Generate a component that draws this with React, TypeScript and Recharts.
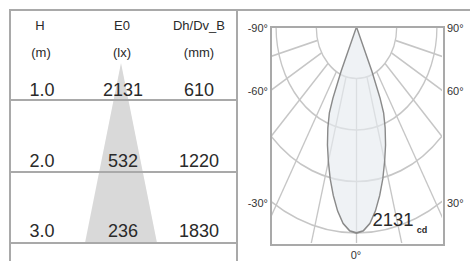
// Beam data sheet: mounting-height table with a light cone, plus the polar candela diagram.
import type { CSSProperties, ReactNode } from "react";
import { Area, AreaChart, PolarAngleAxis, PolarGrid, PolarRadiusAxis, Radar, RadarChart, XAxis, YAxis } from "recharts";

const HEADERS = ["H", "E0", "Dh/Dv_B"];
const UNITS = ["(m)", "(lx)", "(mm)"];
const HEIGHT_M = ["1.0", "2.0", "3.0"];
const E0_LX = [2131, 532, 236];
const SPOT_MM = [610, 1220, 1830];

// polar curve, gamma in degrees (0 = straight down), intensity in cd
const GAMMA_DEG = [-25, -24, -23, -22, -20, -17.5, -15, -12.5, -10, -7.5, -5, -2.5, 0, 2.5, 5, 7.5, 10, 12.5, 15, 17.5, 20, 22, 23, 24, 25];
const INTENSITY_CD = [0, 500, 800, 960, 1110, 1280, 1440, 1610, 1770, 1920, 2040, 2110, 2131, 2110, 2040, 1920, 1770, 1610, 1440, 1280, 1110, 960, 800, 500, 0];
const PEAK_CD = 2131;
const GRID_GAMMA = [-75, -60, -45, -30, -15, 0, 15, 30, 45, 60, 75];
const LEFT_LABELS = ["-90°", "-60°", "-30°"];
const RIGHT_LABELS = ["90°", "60°", "30°"];
const BOTTOM_LABEL = "0°";

const FONT = '"Liberation Sans", Arial, Helvetica, sans-serif';
const LINE = "#a9a9a9";
const GRID = "#c6c6c6";
const INK = "#2a2a2a";

const RING_PX = 51.5;
const POLAR_W = 219; // drawn width before the horizontal squeeze
const SQUEEZE = 171 / POLAR_W;

const coneData = [
  { x: -SPOT_MM[2] / 2, h: Number(HEIGHT_M[2]) },
  { x: 0, h: 0 },
  { x: SPOT_MM[2] / 2, h: Number(HEIGHT_M[2]) },
];
const curveData = GAMMA_DEG.map((g, i) => ({ angle: g, cd: INTENSITY_CD[i] }));

const abs = (s: CSSProperties): CSSProperties => ({ position: "absolute", ...s });

function Txt({ x, y, w = 60, size, children, align = "center", bold, color = INK }: { x: number; y: number; w?: number; size: number; children: ReactNode; align?: "center" | "left" | "right"; bold?: boolean; color?: string }) {
  const left = align === "center" ? x - w / 2 : align === "right" ? x - w : x;
  return (
    <div style={abs({ left, top: y - size / 2, width: w, height: size, lineHeight: `${size}px`, fontSize: size, textAlign: align, color, fontWeight: bold ? 700 : 400, whiteSpace: "nowrap" })}>
      {children}
    </div>
  );
}

function PolarCharts() {
  const angleAxis = <PolarAngleAxis dataKey="angle" type="number" domain={[-180, 180]} tick={false} tickLine={false} axisLine={false} />;
  const radiusAxis = <PolarRadiusAxis type="number" domain={[0, (PEAK_CD * 5) / 4]} allowDataOverflow tick={false} axisLine={false} />;
  return (
    <div style={abs({ left: 0, top: 0, width: POLAR_W, height: 216, transform: `scaleX(${SQUEEZE})`, transformOrigin: "0 0" })}>
      <div style={abs({ left: 0, top: 0 })}>
        <RadarChart width={POLAR_W} height={216} data={curveData} cx={POLAR_W / 2} cy={0} innerRadius={RING_PX} outerRadius={340} startAngle={-270} endAngle={90} margin={{ top: 0, right: 0, bottom: 0, left: 0 }}>
          <PolarGrid gridType="circle" polarAngles={GRID_GAMMA.map((g) => g - 90)} polarRadius={[1, 2, 3, 4].map((k) => k * RING_PX)} stroke={GRID} strokeWidth={1.7} />
          {angleAxis}
          {radiusAxis}
        </RadarChart>
      </div>
      <div style={abs({ left: 0, top: 0 })}>
        <RadarChart width={POLAR_W} height={216} data={curveData} cx={POLAR_W / 2} cy={0} innerRadius={0} outerRadius={RING_PX * 5} startAngle={-270} endAngle={90} margin={{ top: 0, right: 0, bottom: 0, left: 0 }}>
          {angleAxis}
          {radiusAxis}
          <Radar dataKey="cd" stroke="#8a8a8a" strokeWidth={1.8} fill="#e6ebf0" fillOpacity={0.65} dot={false} isAnimationActive={false} />
        </RadarChart>
      </div>
    </div>
  );
}

export default function App() {
  const colX = [42, 122, 199];
  const rowY = [90, 161, 231];
  const rowLines = [100, 172, 243];
  const sideY = [28, 91, 203];
  return (
    <div style={abs({ left: 0, top: 0, width: 470, height: 261, background: "#fff", overflow: "hidden", fontFamily: FONT })}>
      {/* light cone behind the table */}
      <div style={abs({ left: 10, top: 63 })}>
        <AreaChart width={222} height={180} data={coneData} margin={{ top: 0, right: 0, bottom: 0, left: 0 }}>
          <XAxis dataKey="x" type="number" domain={[-2820, 2820]} hide />
          <YAxis type="number" domain={[0, 3]} reversed hide />
          <Area type="linear" dataKey="h" baseValue={3} stroke="none" fill="#d9d9d9" fillOpacity={1} isAnimationActive={false} />
        </AreaChart>
      </div>

      {/* frame */}
      <div style={abs({ left: 9, top: 9, width: 461, height: 2, background: LINE })} />
      <div style={abs({ left: 9, top: 9, width: 2, height: 252, background: LINE })} />
      <div style={abs({ left: 236, top: 9, width: 2, height: 252, background: LINE })} />
      {rowLines.map((y) => (
        <div key={y} style={abs({ left: 10, top: y - 1, width: 227, height: 2, background: LINE })} />
      ))}

      {HEADERS.map((h, i) => (
        <Txt key={h} x={colX[i] - (i === 0 ? 2 : 0)} y={25} size={13} w={80}>{h}</Txt>
      ))}
      {UNITS.map((u, i) => (
        <Txt key={u} x={colX[i] - (i === 0 ? 1 : 0)} y={52} size={13} w={80}>{u}</Txt>
      ))}
      {HEIGHT_M.map((h, r) => (
        <div key={h}>
          <Txt x={colX[0]} y={rowY[r]} size={18}>{h}</Txt>
          <Txt x={colX[1] + 1} y={rowY[r]} size={18}>{E0_LX[r]}</Txt>
          <Txt x={colX[2]} y={rowY[r]} size={18}>{SPOT_MM[r]}</Txt>
        </div>
      ))}

      {/* polar diagram */}
      <div style={abs({ left: 271, top: 27, width: 171, height: 216, overflow: "hidden" })}>
        <PolarCharts />
      </div>
      <div style={abs({ left: 270, top: 26, width: 171, height: 216, border: `2px solid ${LINE}` })} />

      {LEFT_LABELS.map((l, i) => (
        <Txt key={l} x={268} y={sideY[i]} size={11} w={30} align="right" color="#333">{l}</Txt>
      ))}
      {RIGHT_LABELS.map((l, i) => (
        <Txt key={l} x={447} y={sideY[i]} size={11} w={30} align="left" color="#333">{l}</Txt>
      ))}
      <Txt x={356} y={255} size={11} w={30} color="#333">{BOTTOM_LABEL}</Txt>
      <Txt x={393} y={220} size={18.5} w={60}>{PEAK_CD}</Txt>
      <Txt x={422} y={230} size={9} w={20} bold>cd</Txt>
    </div>
  );
}
